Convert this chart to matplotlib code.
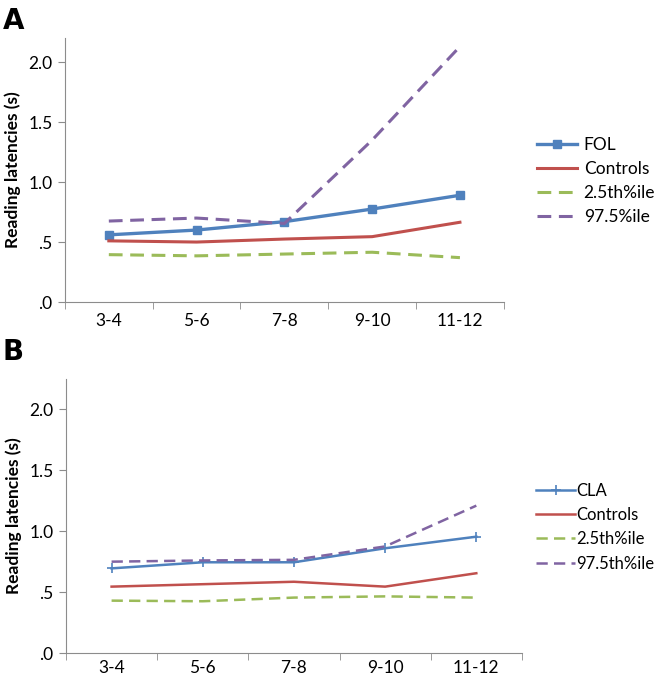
import matplotlib.pyplot as plt
from matplotlib.ticker import FuncFormatter

plt.rcParams['font.family'] = ['Lato', 'DejaVu Sans']

edades = ['3-4', '5-6', '7-8', '9-10', '11-12']

# Panel A
fol = [0.56, 0.60, 0.67, 0.775, 0.89]
controles_a = [0.51, 0.50, 0.525, 0.545, 0.665]
p025_a = [0.395, 0.385, 0.40, 0.415, 0.37]
p975_a = [0.675, 0.70, 0.655, 1.35, 2.13]

# Panel B
cla = [0.695, 0.745, 0.745, 0.86, 0.955]
controles_b = [0.545, 0.565, 0.585, 0.545, 0.655]
p025_b = [0.43, 0.425, 0.455, 0.465, 0.455]
p975_b = [0.75, 0.76, 0.765, 0.875, 1.21]

AZUL = '#4F81BD'
ROJO = '#C0504D'
VERDE = '#9BBB59'
MORADO = '#8064A2'
GRIS = '#8C8C8C'
GUION = (0, (4.5, 2.5))


def fmt(v, pos):
    s = f"{v:.1f}"
    return s[1:] if s.startswith('0') else s


def preparar(ax, ymax):
    n = len(edades)
    ax.set_xlim(-0.5, n - 0.5)
    ax.set_ylim(0, ymax)
    ax.set_yticks([0, 0.5, 1.0, 1.5, 2.0])
    ax.yaxis.set_major_formatter(FuncFormatter(fmt))
    ax.set_xticks(range(n))
    ax.set_xticklabels(edades)
    ax.set_xticks([i - 0.5 for i in range(n + 1)], minor=True)
    ax.tick_params(axis='x', which='major', length=0, pad=8, labelsize=12.5)
    ax.tick_params(axis='x', which='minor', length=5, color=GRIS)
    ax.tick_params(axis='y', length=5, color=GRIS, labelsize=12.5, pad=4)
    for lado in ['top', 'right']:
        ax.spines[lado].set_visible(False)
    for lado in ['left', 'bottom']:
        ax.spines[lado].set_color(GRIS)
    ax.set_ylabel('Reading latencies (s)', fontweight='bold', fontsize=12.5, labelpad=5)


fig = plt.figure(figsize=(6.56, 6.81), dpi=100)

# --- A ---
ax1 = fig.add_axes([0.099, 0.5565, 0.669, 0.3875])
x = range(len(edades))
ax1.plot(x, fol, color=AZUL, lw=2.4, marker='s', ms=6, label='FOL')
ax1.plot(x, controles_a, color=ROJO, lw=2.2, label='Controls')
ax1.plot(x, p025_a, color=VERDE, lw=2.2, ls=GUION, label='2.5th%ile')
ax1.plot(x, p975_a, color=MORADO, lw=2.2, ls=GUION, label='97.5%ile')
preparar(ax1, 2.2)
ax1.legend(loc='center left', bbox_to_anchor=(0.805, 0.734), bbox_transform=fig.transFigure,
           frameon=False, fontsize=12.5, handlelength=2.3, handletextpad=0.4, labelspacing=0.45,
           borderpad=0)
fig.text(0.004, 0.99, 'A', fontsize=20, fontweight='bold', va='top', family='DejaVu Sans')

# --- B ---
ax2 = fig.add_axes([0.1006, 0.0411, 0.695, 0.4024])
ax2.plot(x, cla, color=AZUL, lw=1.8, marker='+', ms=7, mew=1.2, label='CLA')
ax2.plot(x, controles_b, color=ROJO, lw=1.8, label='Controls')
ax2.plot(x, p025_b, color=VERDE, lw=1.8, ls=GUION, label='2.5th%ile')
ax2.plot(x, p975_b, color=MORADO, lw=1.8, ls=GUION, label='97.5th%ile')
preparar(ax2, 2.25)
ax2.tick_params(axis='x', which='major', pad=5)
ax2.legend(loc='center left', bbox_to_anchor=(0.805, 0.226), bbox_transform=fig.transFigure,
           frameon=False, fontsize=12, handlelength=2.3, handletextpad=0.1, labelspacing=0.5,
           borderpad=0)
fig.text(0.004, 0.503, 'B', fontsize=20, fontweight='bold', va='top', family='DejaVu Sans')

fig.savefig('out.png', dpi=100)
